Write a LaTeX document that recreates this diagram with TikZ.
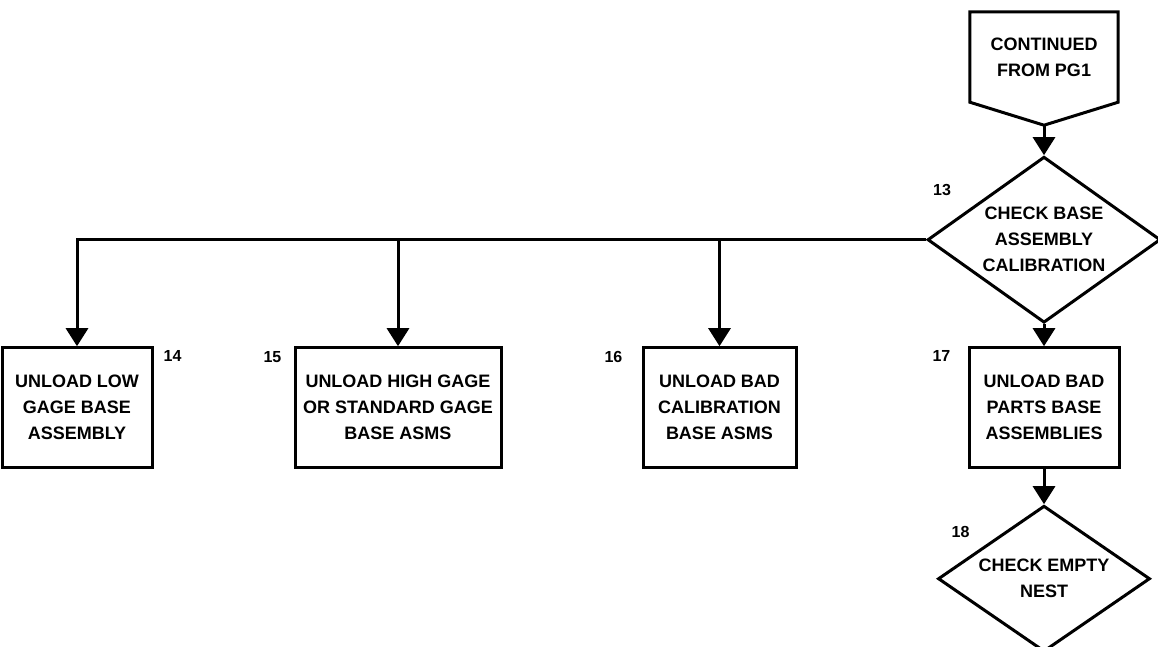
\documentclass[tikz,border=0pt]{standalone}
\usepackage{fontspec}
\setmainfont{Liberation Sans}
\usetikzlibrary{shapes.geometric, arrows.meta, positioning}
\definecolor{ink}{RGB}{0, 0, 0}
\tikzset{
    font=\fontsize{18}{26}\selectfont\bfseries,
    stepbox/.style={rectangle, draw=ink, line width=3pt, align=center, inner sep=0pt, minimum height=120pt},
    decision/.style={diamond, draw=ink, line width=3pt, align=center, inner sep=0pt, shape aspect=1.4},
    offpage/.style={rectangle, align=center, inner sep=0pt, minimum width=148pt, minimum height=90pt},
    numlabel/.style={font=\fontsize{16}{16}\selectfont\bfseries, inner sep=0pt, color=ink},
    arrow/.style={-{Triangle[length=18pt, width=22pt]}, line width=3pt, color=ink}
}
\begin{document}
\begin{tikzpicture}
    \useasboundingbox (0pt,0pt) rectangle (1158pt,-646pt);

    % Off-page connector
    \node (cont) [offpage] at (1044pt,-57pt) {CONTINUED\\FROM PG1};
    \coordinate [below=23pt of cont] (contTip);
    \draw [draw=ink, line width=3pt] (cont.north west) -- (cont.north east) -- (cont.south east) -- (contTip) -- (cont.south west) -- cycle;

    % Calibration check
    \node (chkbase) [decision, minimum width=233pt, minimum height=166pt, below=53pt of cont] {CHECK BASE\\ASSEMBLY\\CALIBRATION};

    % Unload stations
    \node (unbad) [stepbox, minimum width=150pt, below=22pt of chkbase] {UNLOAD BAD\\PARTS BASE\\ASSEMBLIES};
    \node (uncal) [stepbox, minimum width=153pt, left=170pt of unbad] {UNLOAD BAD\\CALIBRATION\\BASE ASMS};
    \node (unhigh) [stepbox, minimum width=206pt, left=139pt of uncal] {UNLOAD HIGH GAGE\\OR STANDARD GAGE\\BASE ASMS};
    \node (unlow) [stepbox, minimum width=150pt, left=140pt of unhigh] {UNLOAD LOW\\GAGE BASE\\ASSEMBLY};

    % Empty nest check
    \node (chkempty) [decision, minimum width=212pt, minimum height=146pt, below=35pt of unbad] {CHECK EMPTY\\NEST};

    % Step numbers
    \node (n13) [numlabel, above right=44pt and 7pt of chkbase.west] {13};
    \node (n14) [numlabel, right=10pt of unlow.north east, yshift=-10pt] {14};
    \node (n15) [numlabel, left=12pt of unhigh.north west, yshift=-11pt] {15};
    \node (n16) [numlabel, left=19pt of uncal.north west, yshift=-11pt] {16};
    \node (n17) [numlabel, left=17pt of unbad.north west, yshift=-10pt] {17};
    \node (n18) [numlabel, above right=41pt and 15pt of chkempty.west] {18};

    % Paths: main line
    \draw [arrow] (contTip) -- (chkbase);
    \draw [arrow] (chkbase) -- (unbad);
    \draw [arrow] (unbad) -- (chkempty);

    % Paths: branches off the calibration check
    \draw [arrow] (chkbase.west) -| (unlow);
    \draw [arrow] (chkbase.west -| unhigh) -- (unhigh);
    \draw [arrow] (chkbase.west -| uncal) -- (uncal);

\end{tikzpicture}
\end{document}
